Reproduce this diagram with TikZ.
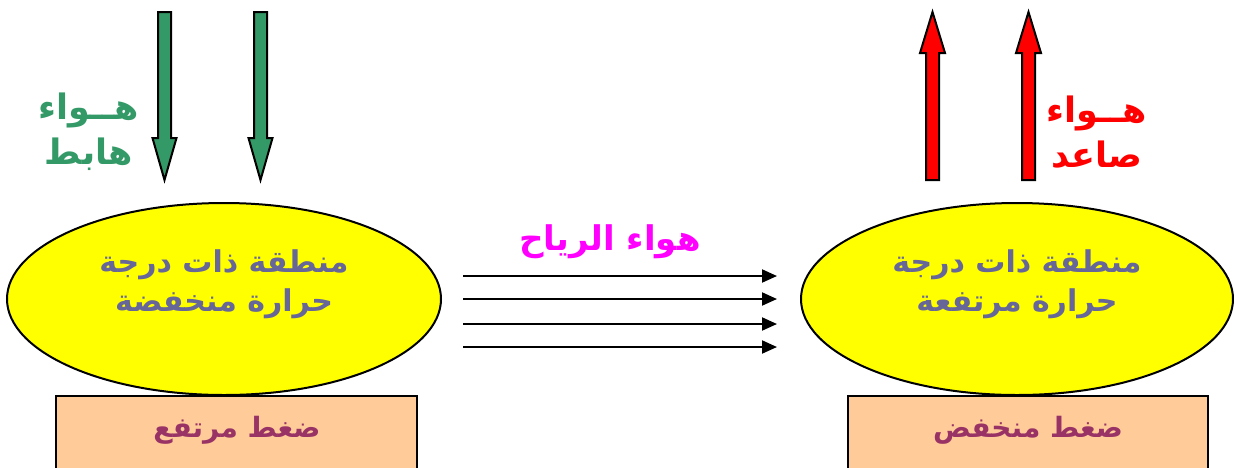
\documentclass[tikz,border=0pt]{standalone}
\usepackage{fontspec}
\TeXXeTstate=1
\newfontfamily\arabicfont[Script=Arabic]{DejaVu Sans}
\usetikzlibrary{arrows.meta}
\definecolor{seagreen}{HTML}{339966}
\definecolor{ovaltext}{HTML}{666699}
\definecolor{boxtext}{HTML}{993366}
\definecolor{boxfill}{HTML}{FFCC99}
\definecolor{windmag}{HTML}{FF00FF}
\definecolor{ovalfill}{HTML}{FFFF00}
\tikzset{
  x=1pt, y=-1pt,
  blockarrow/.style={draw=black, line width=2pt, line join=miter},
  ovallabel/.style={text=ovaltext, align=center, font=\arabicfont\bfseries\fontsize{30}{39}\selectfont},
  sidelabel/.style={align=center, font=\arabicfont\bfseries\fontsize{35}{45}\selectfont},
  boxlabel/.style={text=boxtext, font=\arabicfont\bfseries\fontsize{28}{30}\selectfont},
  windlabel/.style={text=windmag, font=\arabicfont\bfseries\fontsize{34}{36}\selectfont},
  wind/.style={draw=black, line width=2pt, -{Triangle[length=15pt,width=13pt]}},
  downarr/.pic={\path[blockarrow, fill=seagreen] (-6.5,0) -- (6.5,0) -- (6.5,126) -- (12,126) -- (0,168) -- (-12,126) -- (-6.5,126) -- cycle;},
  uparr/.pic={\path[blockarrow, fill=red] (0,0) -- (12.5,41) -- (6.5,41) -- (6.5,168) -- (-6.5,168) -- (-6.5,41) -- (-12.5,41) -- cycle;}
}
\begin{document}
\begin{tikzpicture}
\useasboundingbox (0,0) rectangle (1234,467);
% boxes
\path[draw=black, line width=2pt, fill=boxfill] (56,396) rectangle (417,470);
\path[draw=black, line width=2pt, fill=boxfill] (848,396) rectangle (1208,470);
% ellipses
\path[draw=black, line width=2pt, fill=ovalfill] (224,299) ellipse [x radius=217, y radius=96];
\path[draw=black, line width=2pt, fill=ovalfill] (1017,299) ellipse [x radius=216, y radius=96];
\node[ovallabel] (lowtemp) at (224,284) {\beginR منطقة ذات درجة\endR\\\beginR حرارة منخفضة\endR};
\node[ovallabel] (hightemp) at (1017,284) {\beginR منطقة ذات درجة\endR\\\beginR حرارة مرتفعة\endR};
\node[boxlabel] (highp) at (237,430) {\beginR ضغط مرتفع\endR};
\node[boxlabel] (lowp) at (1028,430) {\beginR ضغط منخفض\endR};
% vertical block arrows
\pic at (164.5,12) {downarr};
\pic at (260.5,12) {downarr};
\pic at (932.5,12) {uparr};
\pic at (1028.5,12) {uparr};
\node[sidelabel, text=seagreen] (down) at (89,132) {\beginR هــواء\endR\\\beginR هابط\endR};
\node[sidelabel, text=red] (up) at (1097,132) {\beginR هــواء\endR\\\beginR صاعد\endR};
% wind
\node[windlabel] (windtxt) at (610,242) {\beginR هواء الرياح\endR};
\foreach \i/\y in {1/276,2/299,3/324,4/347} {
  \coordinate (ws\i) at (463,\y);
  \coordinate (we\i) at (777,\y);
  \draw[wind] (ws\i) -- (we\i);
}
\end{tikzpicture}
\end{document}
